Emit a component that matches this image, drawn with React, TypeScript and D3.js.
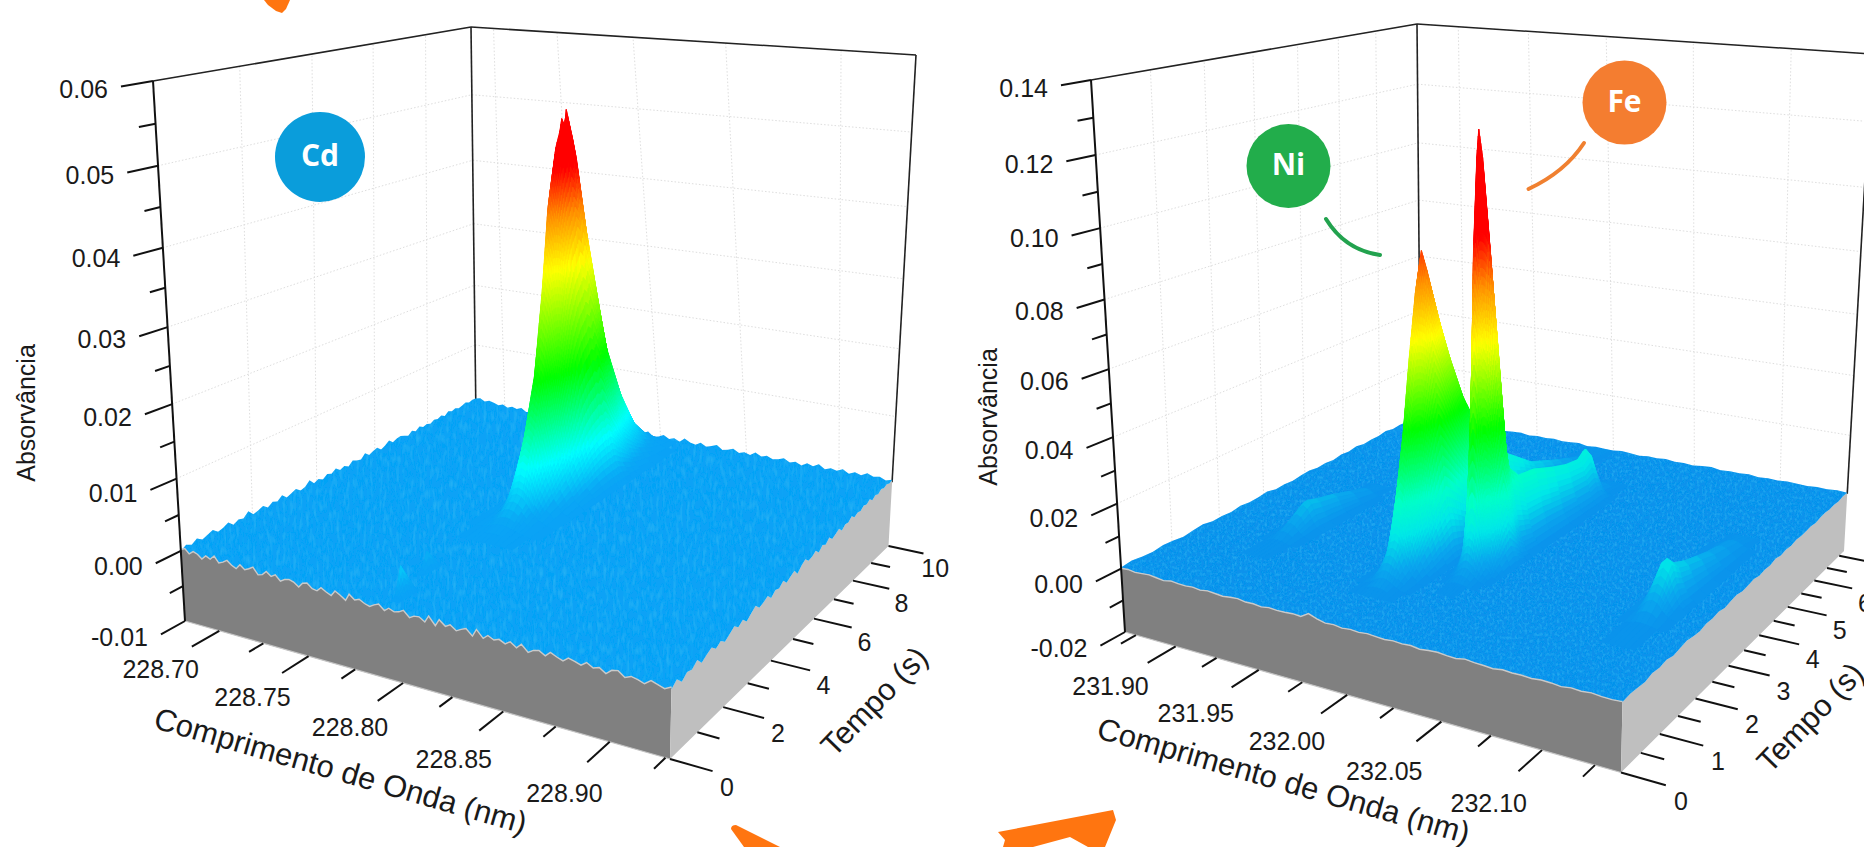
import { useMemo } from 'react';
import * as d3 from 'd3';

type Pt = [number, number];

// --- Cd panel ---
const cdWaveTicks = [228.7, 228.725, 228.75, 228.775, 228.8, 228.825, 228.85, 228.875, 228.9, 228.925];
const cdWaveLabels = ['228.70', '228.75', '228.80', '228.85', '228.90'];
const cdTimeTicks = [0, 1, 2, 3, 4, 5, 6, 7, 8, 9, 10];
const cdTimeLabels = [0, 2, 4, 6, 8, 10];
const cdAbsTicks = [-0.01, -0.005, 0, 0.005, 0.01, 0.015, 0.02, 0.025, 0.03, 0.035, 0.04, 0.045, 0.05, 0.055, 0.06];
const cdAbsLabels = [-0.01, 0, 0.01, 0.02, 0.03, 0.04, 0.05, 0.06];

// baseline along each edge of the surface, in 10^-3 absorbance
const cdFrontEdge = [0.2, 0.5, -0.1, 0.4, 0.2, -0.3, 0.3, 0, 0.6, -0.2, 0.1, 0.5, 0, -0.3, 0.4, -0.1, 0.2, 0.6, -0.3, -0.1, 0.5, 0, 0.4, -0.3, 0.1, 0.3, 0.1, -0.4, 0.3, 0.5, -0.1, -0.2, 0.4, 0, -0.3, 0.5, 0.1, -0.4, 0.6, 0, 0.3, -0.1, -0.3, 0.1, 0.4, -0.3, 0.2, -0.1, 0.1, 0.5, -0.3, 0.1, 0.2, -0.3, 0.7, -0.4, 0.6, -0.1, 0.3, -0.3, 0.1, 0.4, -0.4, 0.7, -0.3, 0.3, -0.1, 0.2, -0.2, 0.3, -0.3, 0.4, -0.5, 0, 0.2, -0.3, 0.4, 0, -0.3, 0.3, 0.1, -0.2, 0.4, -0.1, 0.2, -0.4, 0.3, 0.5, -0.2, 0.2, 0, -0.3, 0.4, 0.1, -0.2, 0.3];
const cdRightEdge = [0, 0.7, -0.3, 0.4, 0.1, 0.8, -0.2, 0.3, 0.7, -0.1, 0.4, -0.3, 0.2, 0.7, 0, 0.5, -0.3, 0.3, 0.8, 0, 0.2, 0.6, -0.2, 0.4, 0.1, 0.7, -0.1, 0.3, 0.6, -0.3, 0.4, 0.8, 0.1, 0.2, 0.6, -0.1, 0.5, 0.1, 0.7, 0, 0.3, 0.6, -0.1, 0.4, 0.2, 0.7, 0.1, 0.4, 0.2, 0.6, 0.3, 0.7, 0.1, 0.5, 0.2, 0.6, 0.3, 0.5, 0.2, 0.4];
const cdBackLeftEdge = [0, 0.5, 0.1, 0.6, 0.1, 0.4, 0.7, 0.1, 0.3, 0.7, 0, 0.4, 0.2, 0.9, 0.1, 0.3, 0.6, 0, 0.5, 0.2, 0.8, 0.1, 0.4, 0.7, 0.1, 0.3, 1.0, 0.2, 0.5, 0.1, 0.6, 0.3, 0.8, 0.2, 0.5, 0.1, 0.7, 0.4, 0.2, 0.9, 0.3, 0.6, 0.8, 0.2, 0.5, 1.0, 0.4, 0.7, 0.8, 0.5, 0.2, 0.7, 0.3, 0.8, 0.4, 0.6, 0.3, 0.7, 0.5, 0.8, 0.4, 0.9, 0.6, 0.8, 0.5, 0.7, 0.9, 0.6, 0.8, 0.7];
const cdBackRightEdge = [0.7, 0.9, 0.5, 0.8, 0.6, 0.3, 0.6, 0.2, 0.5, 0.3, 0.6, 0.1, 0.3, 0.6, 0.1, 0.5, 0.1, 0.4, 0.1, 0.2, 0.5, 0.1, 0.8, 0.2, 0.6, 0.1, 0.9, 0.3, 0.7, 0.1, 0.5, 0.9, 0.2, 0.6, 0.1, 0.4, 0.8, 0.1, 0.3, 0.7, 0.2, 0.5, 0.1, 0.8, 0.3, 0.1, 0.6, 0.1, 0.4, 0.7, 0.1, 0.3, 0.6, 0.1, 0.4, 0.1, 0.7, 0.2, 0.5, 0.1, 0.3, 0.6, 0.1, 0.4, 0, 0.5, 0.2, 0.7, 0.1, 0.4, 0.2, 0.6, 0.1, 0.5, 0.2, 0.7, 0.3, 0.5, 0.1, 0.4];

const cdCentre = 228.795;
const cdPeakTimes = [3.2, 3.8, 4.4, 5, 5.5, 6, 6.4, 6.7, 6.9, 7, 7.1, 7.2, 7.3, 7.5, 8, 8.5, 9, 9.5, 10];
const cdPeakHeights = [0, 0.001, 0.004, 0.012, 0.02, 0.032, 0.043, 0.048, 0.05, 0.0515, 0.0505, 0.0525, 0.0495, 0.039, 0.02, 0.011, 0.005, 0.002, 0];
const cdOffsets = [-0.02, -0.015, -0.011, -0.0075, -0.005, -0.0025, 0, 0.0025, 0.005, 0.0075, 0.011, 0.015, 0.02];
const cdProfile = [0, 0.06, 0.2, 0.45, 0.72, 0.93, 1, 0.93, 0.72, 0.45, 0.2, 0.06, 0];

const blipTimes = [0.3, 0.6, 0.9];
const blipOffsets = [-0.002, 0, 0.002];
const blipProfile = [0, 1, 0];
const cdBlipOne = [0, 0.004, 0];
const cdBlipTwo = [0, 0.0025, 0];

// --- Ni / Fe panel ---
const niWaveTicks = [231.875, 231.9, 231.925, 231.95, 231.975, 232.0, 232.025, 232.05, 232.075, 232.1, 232.125];
const niWaveLabels = ['231.90', '231.95', '232.00', '232.05', '232.10'];
const niTimeTicks = [0, 0.5, 1, 1.5, 2, 2.5, 3, 3.5, 4, 4.5, 5, 5.5, 6, 6.5, 7];
const niTimeLabels = [0, 1, 2, 3, 4, 5, 6];
const niAbsTicks = [-0.02, -0.01, 0, 0.01, 0.02, 0.03, 0.04, 0.05, 0.06, 0.07, 0.08, 0.09, 0.1, 0.11, 0.12, 0.13, 0.14];
const niAbsLabels = [-0.02, 0, 0.02, 0.04, 0.06, 0.08, 0.1, 0.12, 0.14];

const niFrontEdge = [0.1, 0.3, 0, 0.2, 0.4, 0.1, -0.2, 0.3, 0.1, 0, 0.2, -0.1, 0.3, 0.1, -0.1, 0.2, 0.4, 0, 0.1, -0.2, 0.2, 0, 0.1, 0.3, 0.1, 1.6, 0.7, 0.1, 0.3, -0.1, 0.2, 0, 0.3, 0.1, -0.1, 0.2, 0, 0.2, -0.2, 0.1, 0.3, 0, -0.1, 0.4, 0.1, 0, -0.2, 0.2, 0, 0.1, -0.1, 0.2, 0.1, -0.2, 0.2, 0, 0.3, 0, -0.1, 0.1];
const niRightEdge = [0, 0.4, 0.1, -0.2, 0.5, 0.1, 0.6, -0.1, 0.3, 0.7, 0.2, -0.1, 0.5, 0.2, 0.6, 0, 0.4, 0.7, 0.1, 0.3, 0.6, 0, 0.4, 0.2, 0.7, 0.1, 0.5, 0.2, 0.6, 0.3, 0.4, 0.6, 0.2, 0.5, 0.7, 0.3, 0.5, 0.2, 0.6, 0.4];
const niBackLeftEdge = [0.3, 0.8, 0.4, 0.2, 0.7, 0.5, 0.1, 0.6, 0.9, 0.3, 0.5, 0.2, 0.8, 0.4, 0.6, 1.0, 0.3, 0.5, 0.2, 0.7, 0.9, 0.4, 0.6, 0.3, 0.8, 0.5, 1.0, 0.4, 0.7, 0.6, 1.1, 0.5, 0.7, 0.4, 0.9, 0.6];
const niBackRightEdge = [0.6, 0.8, 0.5, 0.7, 0.4, 0.6, 0.9, 0.3, 0.6, 0.4, 0.8, 0.3, 0.5, 0.7, 0.2, 0.6, 0.4, 0.7, 0.3, 0.5, 0.8, 0.2, 0.6, 0.4, 0.3, 0.7, 0.5, 0.2, 0.6, 0.4, 0.7, 0.3, 0.5, 0.2, 0.6, 0.8, 0.3, 0.5, 0.4, 0.7, 0.2, 0.5, 0.3, 0.6, 0.4, 0.2, 0.5, 0.3, 0.6, 0.4];

const niCentre = 231.992;
const niPeakTimes = [0.9, 1.2, 1.5, 1.7, 1.9, 2.1, 2.3, 2.4, 2.5, 2.7, 2.9, 3.2, 3.5, 3.8, 4.2, 5, 5.8, 6.5, 7.2];
const niPeakHeights = [0, 0.003, 0.012, 0.028, 0.045, 0.066, 0.085, 0.092, 0.086, 0.072, 0.06, 0.045, 0.035, 0.027, 0.02, 0.011, 0.006, 0.002, 0];
const niOffsets = [-0.016, -0.012, -0.009, -0.006, -0.004, -0.002, 0, 0.002, 0.004, 0.006, 0.009, 0.012, 0.015];
const niProfile = [0, 0.05, 0.18, 0.45, 0.72, 0.94, 1, 0.94, 0.72, 0.45, 0.18, 0.05, 0];

const feCentre = 232.021;
const fePeakTimes = [1.4, 1.7, 1.9, 2.1, 2.3, 2.45, 2.6, 2.7, 2.75, 2.85, 3, 3.3, 3.7, 4.2, 4.6, 5, 5.2, 5.3, 5.5, 6];
const fePeakHeights = [0, 0.001, 0.004, 0.016, 0.062, 0.1, 0.127, 0.1, 0.085, 0.045, 0.027, 0.022, 0.021, 0.018, 0.016, 0.015, 0.017, 0.015, 0.003, 0];
const feOffsets = [-0.013, -0.01, -0.007, -0.005, -0.003, -0.0015, 0, 0.0015, 0.003, 0.005, 0.007, 0.01, 0.013];
const feProfile = [0, 0.05, 0.2, 0.45, 0.75, 0.94, 1, 0.94, 0.75, 0.45, 0.2, 0.05, 0];

const sideOffsets = [-0.012, -0.008, -0.005, -0.0025, 0, 0.0025, 0.005, 0.008, 0.012];
const sideProfile = [0, 0.15, 0.5, 0.88, 1, 0.88, 0.5, 0.15, 0];
const leftBumpTimes = [1.2, 1.7, 2.0, 2.3, 2.4, 2.6, 3, 3.4, 3.8, 4.2];
const leftBumpHeights = [0, 0.001, 0.004, 0.0075, 0.0085, 0.0075, 0.006, 0.004, 0.002, 0];
const rightBumpTimes = [1.2, 1.8, 2.1, 2.4, 2.5, 2.7, 3, 3.4, 3.8, 4.2, 4.6, 5];
const rightBumpHeights = [0, 0.001, 0.005, 0.012, 0.014, 0.011, 0.009, 0.007, 0.005, 0.0035, 0.002, 0];

type Peak = { centre: number; times: number[]; heights: number[]; offsets: number[]; profile: number[] };

type Panel = {
  id: string;
  floor: Pt[]; // left, front, right, back corners
  ceil: Pt[];
  waveDomain: [number, number];
  timeDomain: [number, number];
  absDomain: [number, number];
  perspective: number;
  waveTicks: number[];
  waveLabels: string[];
  waveLabelShift: number;
  timeTicks: number[];
  timeLabels: number[];
  absTicks: number[];
  absLabels: number[];
  absMajor: number;
  edges: { front: number[]; right: number[]; backLeft: number[]; backRight: number[] };
  peaks: Peak[];
  colors: [number, string][];
  base: string;
  titleAbs: Pt;
  titleWave: Pt;
  titleTime: Pt;
  texture: string;
};

const panels: Panel[] = [
  {
    id: 'cd',
    floor: [[185, 621], [670, 759], [888.5, 546], [476.5, 458.6]],
    ceil: [[153, 81], [681.5, 221], [916, 55], [471, 27]],
    waveDomain: [228.68, 228.927],
    timeDomain: [0, 10],
    absDomain: [-0.01, 0.06],
    perspective: 1.117,
    waveTicks: cdWaveTicks,
    waveLabels: cdWaveLabels,
    waveLabelShift: 17,
    timeTicks: cdTimeTicks,
    timeLabels: cdTimeLabels,
    absTicks: cdAbsTicks,
    absLabels: cdAbsLabels,
    absMajor: 0.01,
    edges: { front: cdFrontEdge, right: cdRightEdge, backLeft: cdBackLeftEdge, backRight: cdBackRightEdge },
    peaks: [
      { centre: 228.797, times: blipTimes, heights: cdBlipOne, offsets: blipOffsets, profile: blipProfile },
      { centre: 228.79, times: blipTimes.map((t) => t + 1.1), heights: cdBlipTwo, offsets: blipOffsets, profile: blipProfile },
      { centre: cdCentre, times: cdPeakTimes, heights: cdPeakHeights, offsets: cdOffsets, profile: cdProfile },
    ],
    colors: [[0, '#0aa2f6'], [0.0015, '#0aa8f5'], [0.007, '#00ffff'], [0.018, '#00ff00'], [0.032, '#ffff00'], [0.039, '#ff9000'], [0.045, '#ff0000']],
    base: '#0aa2f6',
    titleAbs: [28, 413],
    titleWave: [340, 773],
    titleTime: [876, 703],
    texture: '0.3 0.09',
  },
  {
    id: 'ni',
    floor: [[1125, 632], [1621, 772.5], [1844, 551], [1421, 467]],
    ceil: [[1091, 80], [1634, 159.5], [1872, 54], [1417, 24]],
    waveDomain: [231.868, 232.137],
    timeDomain: [0, 7.2],
    absDomain: [-0.02, 0.14],
    perspective: 1.1,
    waveTicks: niWaveTicks,
    waveLabels: niWaveLabels,
    waveLabelShift: 12,
    timeTicks: niTimeTicks,
    timeLabels: niTimeLabels,
    absTicks: niAbsTicks,
    absLabels: niAbsLabels,
    absMajor: 0.02,
    edges: { front: niFrontEdge, right: niRightEdge, backLeft: niBackLeftEdge, backRight: niBackRightEdge },
    peaks: [
      { centre: 231.915, times: leftBumpTimes, heights: leftBumpHeights, offsets: sideOffsets, profile: sideProfile },
      { centre: niCentre, times: niPeakTimes, heights: niPeakHeights, offsets: niOffsets, profile: niProfile },
      { centre: feCentre, times: fePeakTimes, heights: fePeakHeights, offsets: feOffsets, profile: feProfile },
      { centre: 232.113, times: rightBumpTimes, heights: rightBumpHeights, offsets: sideOffsets, profile: sideProfile },
    ],
    colors: [[0, '#0a92ec'], [0.005, '#0aa8ee'], [0.013, '#00e8e8'], [0.022, '#00ffc8'], [0.042, '#00ff00'], [0.067, '#ffff00'], [0.083, '#ff9000'], [0.097, '#ff0000']],
    base: '#0a92ec',
    titleAbs: [990, 417],
    titleWave: [1283, 783],
    titleTime: [1812, 719],
    texture: '0.4 0.3',
  },
];

const FONT = '"Liberation Sans", Arial, sans-serif';

// maps the unit square onto a quadrilateral, so the floor and ceiling keep their perspective
function homography(q: Pt[]) {
  const [[x0, y0], [x1, y1], [x2, y2], [x3, y3]] = q;
  const dx1 = x1 - x2, dx2 = x3 - x2, sx = x0 - x1 + x2 - x3;
  const dy1 = y1 - y2, dy2 = y3 - y2, sy = y0 - y1 + y2 - y3;
  const den = dx1 * dy2 - dx2 * dy1;
  const g = (sx * dy2 - dx2 * sy) / den;
  const h = (dx1 * sy - sx * dy1) / den;
  const a = x1 - x0 + g * x1, b = x3 - x0 + h * x3;
  const d = y1 - y0 + g * y1, e = y3 - y0 + h * y3;
  return (u: number, v: number): Pt => {
    const w = g * u + h * v + 1;
    return [(a * u + b * v + x0) / w, (d * u + e * v + y0) / w];
  };
}

const line = d3.line();
const closed = (pts: Pt[]) => line(pts) + 'Z';

function Chart({ p }: { p: Panel }) {
  const marks = useMemo(() => {
    const xS = d3.scaleLinear().domain(p.waveDomain).range([0, 1]);
    const tS = d3.scaleLinear().domain(p.timeDomain).range([0, 1]);
    const zS = d3.scaleLinear().domain(p.absDomain).range([0, 1]);
    const color = d3.scaleLinear<string>()
      .domain(p.colors.map((c) => c[0]))
      .range(p.colors.map((c) => c[1]))
      .interpolate(d3.interpolateRgb)
      .clamp(true);

    const floorH = homography(p.floor);
    const ceilH = homography(p.ceil);
    const project = (u: number, v: number, z: number): Pt => {
      const s0 = zS(z);
      const s = s0 / (s0 + (1 - s0) * p.perspective);
      const a = floorH(u, v), b = ceilH(u, v);
      return [a[0] + (b[0] - a[0]) * s, a[1] + (b[1] - a[1]) * s];
    };
    const [zMin, zMax] = p.absDomain;

    // edge of the surface
    const along = (arr: number[]) => {
      const idx = d3.scaleLinear().domain([0, arr.length - 1]).range([0, 1]);
      return arr.map((v, i) => ({ pos: idx(i), z: v / 1000 }));
    };
    const front = along(p.edges.front).map((e) => project(e.pos, 0, e.z));
    const right = along(p.edges.right).map((e) => project(1, e.pos, e.z));
    const backR = along(p.edges.backRight).map((e) => project(e.pos, 1, e.z));
    const backL = along(p.edges.backLeft).map((e) => project(0, e.pos, e.z));

    const surface = closed([...front, ...right, ...backR.slice().reverse(), ...backL.slice().reverse()]);
    const frontWall = closed([...front, project(1, 0, zMin), project(0, 0, zMin)]);
    const rightWall = closed([...right, project(1, 1, zMin), project(1, 0, zMin)]);

    // peaks, painted from far to near
    const quads: { d: string; fill: string }[] = [];
    const step = zMax / 70;
    const faint = zMax / 300;
    p.peaks.forEach((pk) => {
      for (let r = pk.times.length - 2; r >= 0; r--) {
        for (let c = 0; c < pk.offsets.length - 1; c++) {
          const z00 = pk.heights[r] * pk.profile[c], z10 = pk.heights[r] * pk.profile[c + 1];
          const z01 = pk.heights[r + 1] * pk.profile[c], z11 = pk.heights[r + 1] * pk.profile[c + 1];
          if (Math.max(z00, z10, z01, z11) < faint) continue;
          const u0 = xS(pk.centre + pk.offsets[c]), u1 = xS(pk.centre + pk.offsets[c + 1]);
          const v0 = tS(pk.times[r]), v1 = tS(pk.times[r + 1]);
          const nT = Math.min(10, Math.max(1, Math.ceil(Math.max(Math.abs(z01 - z00), Math.abs(z11 - z10)) / step)));
          const nL = Math.min(8, Math.max(1, Math.ceil(Math.max(Math.abs(z10 - z00), Math.abs(z11 - z01)) / step)));
          const height = (a: number, b: number) => (z00 * (1 - a) + z10 * a) * (1 - b) + (z01 * (1 - a) + z11 * a) * b;
          const at = (i: number, j: number): Pt => {
            const a = i / nL, b = j / nT;
            return project(u0 + (u1 - u0) * a, v0 + (v1 - v0) * b, height(a, b));
          };
          for (let j = nT - 1; j >= 0; j--) {
            for (let i = 0; i < nL; i++) {
              const z = height((i + 0.5) / nL, (j + 0.5) / nT);
              quads.push({ d: closed([at(i, j), at(i + 1, j), at(i + 1, j + 1), at(i, j + 1)]), fill: color(z) });
            }
          }
        }
      }
    });

    // back walls
    const grid: string[] = [];
    p.absLabels.forEach((z) => {
      grid.push(line([project(0, 0, z), project(0, 1, z)])!);
      grid.push(line([project(0, 1, z), project(1, 1, z)])!);
    });
    p.timeLabels.slice(1).forEach((t) => grid.push(line([project(0, tS(t), zMin), project(0, tS(t), zMax)])!));
    p.waveLabels.forEach((w) => grid.push(line([project(xS(+w), 1, zMin), project(xS(+w), 1, zMax)])!));

    const frame = [
      line([project(0, 1, zMax), project(0, 0, zMax)])!,
      line([project(0, 1, zMax), project(1, 1, zMax)])!,
      line([project(0, 1, zMax), project(0, 1, zMin)])!,
      line([project(1, 1, zMax), project(1, 1, 0)])!,
    ];
    const leftAxis = line([project(0, 0, zMax), project(0, 0, zMin)])!;

    const ticks: string[] = [];
    const isMajor = (v: number, unit: number) => Math.abs(v / unit - Math.round(v / unit)) < 1e-6;
    p.absTicks.forEach((z) => {
      ticks.push(line([project(0, 0, z), project(0, isMajor(z, p.absMajor) ? -0.065 : -0.035, z)])!);
    });
    p.waveTicks.forEach((w) => {
      ticks.push(line([project(xS(w), 0, zMin), project(xS(w), isMajor(w, 0.05) ? -0.075 : -0.04, zMin)])!);
    });
    const timeUnit = p.timeTicks[2] - p.timeTicks[0];
    p.timeTicks.forEach((t) => {
      ticks.push(line([project(1, tS(t), zMin), project(isMajor(t, timeUnit) ? 1.075 : 1.04, tS(t), zMin)])!);
    });

    const absText = p.absLabels.map((z) => {
      const e = project(0, -0.065, z);
      return { x: e[0] - 13, y: e[1] + 5, s: d3.format('.2f')(z).replace('−', '-') };
    });
    const waveText = p.waveLabels.map((w) => {
      const e = project(xS(+w), -0.2, zMin);
      return { x: e[0] + p.waveLabelShift, y: e[1] - 3, s: w };
    });
    const timeText = p.timeLabels.map((t) => {
      const e = project(1.1, tS(t), zMin);
      return { x: e[0], y: e[1] + 14, s: String(t) };
    });
    const floorEdge = line([project(0, 0, zMin), project(1, 0, zMin)])!;

    return { surface, frontWall, rightWall, quads, grid, frame, leftAxis, ticks, absText, waveText, timeText, front, floorEdge };
  }, [p]);

  const filterId = `speck-${p.id}`;
  return (
    <g>
      <defs>
        <filter id={filterId} x="0" y="0" width="1" height="1">
          <feTurbulence type="fractalNoise" baseFrequency={p.texture} numOctaves={2} seed={4} result="n" />
          <feColorMatrix in="n" type="matrix" values="0 0 0 0 0.03  0 0 0 0 0.5  0 0 0 0 0.9  0 0 0 1.2 -0.52" result="s" />
          <feComposite in="s" in2="SourceAlpha" operator="in" result="c" />
          <feMerge>
            <feMergeNode in="SourceGraphic" />
            <feMergeNode in="c" />
          </feMerge>
        </filter>
      </defs>
      {marks.grid.map((d, i) => (
        <path key={i} d={d} fill="none" stroke="#dedede" strokeWidth={1} strokeDasharray="1.5 2" />
      ))}
      {marks.frame.map((d, i) => (
        <path key={i} d={d} fill="none" stroke="#222" strokeWidth={1.6} />
      ))}
      <path d={marks.frontWall} fill="#808080" />
      <path d={marks.rightWall} fill="#bfbfbf" />
      <path d={marks.surface} fill={p.base} filter={`url(#${filterId})`} />
      {marks.quads.map((q, i) => (
        <path key={i} d={q.d} fill={q.fill} stroke={q.fill} strokeWidth={0.6} />
      ))}
      <path d={line(marks.front)!} fill="none" stroke="#c9c9c9" strokeWidth={1.4} />
      <path d={marks.floorEdge} fill="none" stroke="#c4c4c4" strokeWidth={1.2} />
      <path d={marks.leftAxis} fill="none" stroke="#111" strokeWidth={2} />
      {marks.ticks.map((d, i) => (
        <path key={i} d={d} fill="none" stroke="#111" strokeWidth={2} />
      ))}
      <g fontFamily={FONT} fontSize={25} fill="#1a1a1a">
        {marks.absText.map((t) => (
          <text key={t.s} x={t.x} y={t.y} textAnchor="end" dominantBaseline="middle">{t.s}</text>
        ))}
        {marks.waveText.map((t) => (
          <text key={t.s} x={t.x} y={t.y} textAnchor="middle" dominantBaseline="middle">{t.s}</text>
        ))}
        {marks.timeText.map((t) => (
          <text key={t.s} x={t.x} y={t.y} textAnchor="middle" dominantBaseline="middle">{t.s}</text>
        ))}
      </g>
      <g fontFamily={FONT} fill="#1a1a1a">
        <text transform={`translate(${p.titleAbs}) rotate(-90)`} textAnchor="middle" dominantBaseline="middle" fontSize={25}>Absorvância</text>
        <text transform={`translate(${p.titleWave}) rotate(16)`} textAnchor="middle" dominantBaseline="middle" fontSize={31}>Comprimento de Onda (nm)</text>
        <text transform={`translate(${p.titleTime}) rotate(-46)`} textAnchor="middle" dominantBaseline="middle" fontSize={31}>Tempo (s)</text>
      </g>
    </g>
  );
}

const badges = [
  { label: 'Cd', x: 320, y: 157, r: 45, color: '#0a9ddb' },
  { label: 'Ni', x: 1288.5, y: 166, r: 42, color: '#22ad4b' },
  { label: 'Fe', x: 1624.5, y: 102.6, r: 42, color: '#f47d30' },
];

export default function App() {
  return (
    <svg width={1864} height={847} style={{ position: 'absolute', left: 0, top: 0, background: '#fff' }}>
      {panels.map((p) => (
        <Chart key={p.id} p={p} />
      ))}
      {badges.map((b) => (
        <g key={b.label}>
          <circle cx={b.x} cy={b.y} r={b.r} fill={b.color} />
          <text x={b.x} y={b.y + 1} textAnchor="middle" dominantBaseline="middle" fill="#fff" fontFamily='"Open Sans", sans-serif' fontWeight={700} fontSize={30}>{b.label}</text>
        </g>
      ))}
      <path d="M1326 219 Q1345 250 1380 255" fill="none" stroke="#22a24e" strokeWidth={4} strokeLinecap="round" />
      <path d="M1584 143 Q1565 172 1528.5 189" fill="none" stroke="#f08030" strokeWidth={4} strokeLinecap="round" />
      <g fill="#ff7510">
        <path d="M264 0 L290 0 L286 9 L282 13 L276 11 L268 5 Z" />
        <path d="M731 829 Q731 825 736 825 L780 847 L744 847 Z" />
        <path d="M998 832 L1113 810 L1116 820 L1105 847 L1088 847 L1070 837 L1033 847 L1003 847 L1005 840 Z" />
      </g>
    </svg>
  );
}
